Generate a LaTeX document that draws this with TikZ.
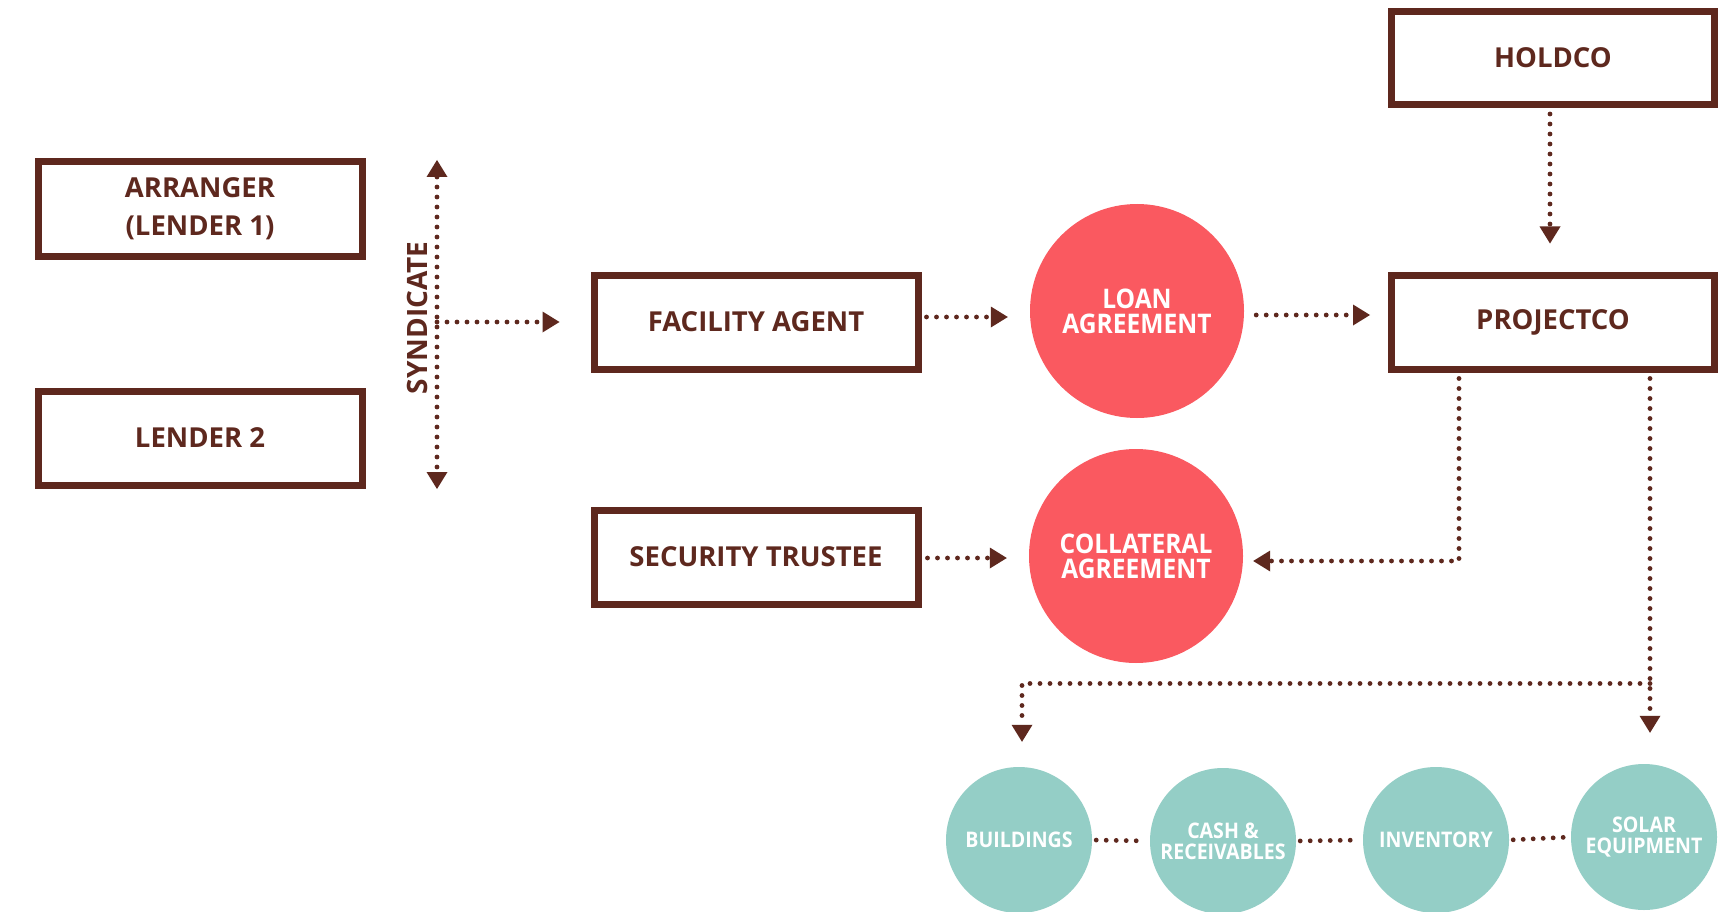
\documentclass[tikz,border=0pt]{standalone}
\usepackage{fontspec}
\setmainfont{Open Sans}
\newfontfamily\condfont[FakeStretch=0.91]{Open Sans}
\usetikzlibrary{arrows.meta}
\definecolor{brn}{RGB}{94,40,30}
\definecolor{coral}{RGB}{250,89,96}
\definecolor{teal}{RGB}{148,206,198}
\tikzset{
  boxnode/.style={draw=brn, line width=7pt, fill=white, minimum width=324pt, minimum height=94pt,
    inner sep=0pt, align=center, text=brn, font=\bfseries\fontsize{27.5}{38}\selectfont},
  redcirc/.style={circle, fill=coral, minimum size=214pt, inner sep=0pt, align=center, text=white,
    font=\condfont\bfseries\fontsize{27}{25}\selectfont},
  tealcirc/.style={circle, fill=teal, minimum size=146pt, inner sep=0pt, align=center, text=white,
    font=\condfont\bfseries\fontsize{21.5}{21}\selectfont},
  dotline/.style={draw=brn, line width=4.8pt, line cap=round, dash pattern=on 0pt off 10pt},
  tip/.style={-{Triangle[length=17pt,width=21pt,fill=brn,line width=0pt]}},
  bitip/.style={{Triangle[length=17pt,width=21pt,fill=brn,line width=0pt]}-{Triangle[length=17pt,width=21pt,fill=brn,line width=0pt]}}
}
\begin{document}
\begin{tikzpicture}[x=1pt,y=-1pt]
\useasboundingbox (0,0) rectangle (1721,912);
\fill[white] (0,0) rectangle (1721,912);

% boxes
\node[boxnode] (arr) at (200,209) {ARRANGER\\(LENDER 1)};
\node[boxnode] (len) at (200,438) {LENDER 2};
\node[boxnode] (fa) at (756,322) {FACILITY AGENT};
\node[boxnode] (st) at (756,557) {SECURITY TRUSTEE};
\node[boxnode, minimum width=323pt, minimum height=93pt] (hold) at (1553,58) {HOLDCO};
\node[boxnode, minimum width=323pt] (proj) at (1553,322) {PROJECTCO};

% circles
\node[redcirc] (loan) at (1137,311) {LOAN\\AGREEMENT};
\node[redcirc] (coll) at (1136,556) {COLLATERAL\\AGREEMENT};

\node[tealcirc] (bld) at (1019,840) {BUILDINGS};
\node[tealcirc] (cash) at (1223,841) {CASH \&\\RECEIVABLES};
\node[tealcirc] (inv) at (1436,840) {INVENTORY};
\node[tealcirc] (sol) at (1644,837) {SOLAR\\EQUIPMENT};

% syndicate
\coordinate (synT) at (437,160);
\coordinate (synB) at (437,489);
\coordinate (synM) at (437,322);
\node[rotate=90, text=brn, font=\bfseries\fontsize{28}{30}\selectfont] (synlab) at (417,318) {SYNDICATE};
\draw[dotline, bitip] (synT) -- (synB);
\draw[dotline, tip, shorten >=31pt] (synM) -- (synM -| fa.west);

% main arrows
\draw[dotline, tip, shorten <=5pt, shorten >=22pt] ([yshift=5pt]fa.east) -- ([yshift=5pt]fa.east -| loan.west);
\draw[dotline, tip, shorten <=6pt, shorten >=22pt] ([yshift=-1pt]st.east) -- ([yshift=-1pt]st.east -| coll.west);
\draw[dotline, tip, shorten <=12pt, shorten >=18pt] ([yshift=-4pt]loan.east) -- ([yshift=-4pt]loan.east -| proj.west);
\draw[dotline, tip, shorten <=6pt, shorten >=28pt] ([xshift=-3pt]hold.south) -- ([xshift=-3pt]proj.north);

% projectco to collateral
\coordinate (pcol) at ([xshift=-94pt]proj.south);
\draw[dotline, tip, shorten <=6pt, shorten >=10pt] (pcol) |- ([yshift=-5pt]coll.east);

% projectco to assets
\coordinate (pas) at ([xshift=97pt]proj.south);
\coordinate (br) at ([yshift=-311pt]pas);
\draw[dotline, tip, shorten <=6pt, shorten >=31pt] (pas) -- (pas |- sol.north);
\draw[dotline, tip, shorten >=25pt] (br) -| ([xshift=3pt]bld.north);

% asset links
\draw[dotline, shorten <=4pt, shorten >=4pt] (bld.east) -- (cash.west);
\draw[dotline, shorten <=4pt, shorten >=4pt] (cash.east) -- (inv.west);
\draw[dotline, shorten <=4pt, shorten >=4pt] (inv.east) -- (sol.west);
\end{tikzpicture}
\end{document}
